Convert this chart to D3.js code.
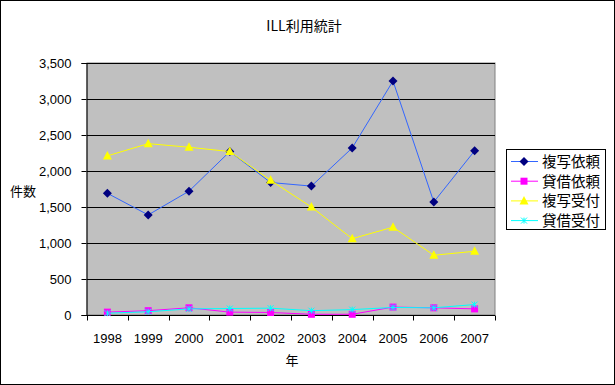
<!DOCTYPE html>
<html>
<head>
<meta charset="utf-8">
<script src="https://cdn.jsdelivr.net/npm/d3@7"></script>
<style>
body { margin: 0; background: #fff; }
text { font-family: "Noto Sans CJK JP", "DejaVu Sans", sans-serif; fill: #000; }
</style>
</head>
<body>
<div id="chart"></div>
<script>
// data
var years = ["1998", "1999", "2000", "2001", "2002", "2003", "2004", "2005", "2006", "2007"];
var seriesNames = ["複写依頼", "貸借依頼", "複写受付", "貸借受付"];
var fukushaIrai = [1690, 1390, 1720, 2270, 1840, 1790, 2320, 3250, 1570, 2280];
var taishakuIrai = [40, 60, 100, 40, 35, 10, 10, 110, 100, 85];
var fukushaUketsuke = [2210, 2380, 2330, 2270, 1870, 1500, 1060, 1220, 830, 885];
var taishakuUketsuke = [25, 45, 85, 90, 95, 60, 75, 105, 100, 145];
var yTicks = [0, 500, 1000, 1500, 2000, 2500, 3000, 3500];

var W = 615, H = 385;
var margin = {top: 63, right: 120, bottom: 70, left: 87},
    width = 495 - margin.left,
    height = 315 - margin.top;

var svg = d3.select("#chart").append("svg")
    .attr("width", W)
    .attr("height", H);

// outer border
svg.append("rect")
    .attr("x", 0.5).attr("y", 0.5)
    .attr("width", W - 1).attr("height", H - 1)
    .attr("fill", "#fff").attr("stroke", "#000");

svg.append("text")
    .attr("x", 304).attr("y", 31)
    .attr("text-anchor", "middle")
    .style("font-size", "14px")
    .text("ILL利用統計");

var g = svg.append("g")
    .attr("transform", "translate(" + margin.left + "," + margin.top + ")");

var x = d3.scaleBand().domain(years).range([0, width]);
var y = d3.scaleLinear().domain([0, 3500]).range([height, 0]);
var cx = function (i) { return x(years[i]) + x.bandwidth() / 2; };

// plot area
g.append("rect")
    .attr("width", width).attr("height", height)
    .attr("fill", "#c0c0c0").attr("stroke", "#808080");

// gridlines
g.append("g")
    .selectAll("line")
    .data(yTicks.slice(1))
    .enter().append("line")
    .attr("x1", 0).attr("x2", width)
    .attr("y1", function (d) { return Math.round(y(d)) + 0.5; })
    .attr("y2", function (d) { return Math.round(y(d)) + 0.5; })
    .attr("stroke", "#000");

// y axis
var yAxis = g.append("g")
    .attr("transform", "translate(-0.5,0)")
    .call(d3.axisLeft(y).tickValues(yTicks).tickSize(5).tickPadding(10)
        .tickFormat(d3.format(",")));
yAxis.select(".domain").attr("stroke", "#000");
yAxis.selectAll("text").style("font-size", "13px").style("font-family", "\"Liberation Sans\", sans-serif");

// x axis with ticks between categories
var xAxis = g.append("g")
    .attr("transform", "translate(0," + (height + 0.5) + ")");
xAxis.append("line").attr("x1", 0).attr("x2", width).attr("stroke", "#000");
xAxis.selectAll(".tk")
    .data(years.concat(["end"]))
    .enter().append("line")
    .attr("x1", function (d, i) { return Math.round(i * x.step()) + 0.5; })
    .attr("x2", function (d, i) { return Math.round(i * x.step()) + 0.5; })
    .attr("y1", 0).attr("y2", 5)
    .attr("stroke", "#000");
xAxis.selectAll(".lbl")
    .data(years)
    .enter().append("text")
    .attr("x", function (d, i) { return cx(i); })
    .attr("y", 27)
    .attr("text-anchor", "middle")
    .style("font-size", "13px")
    .style("font-family", "\"Liberation Sans\", sans-serif")
    .text(function (d) { return d; });

// axis titles
svg.append("text")
    .attr("x", 23).attr("y", 196)
    .attr("text-anchor", "middle")
    .style("font-size", "13px")
    .text("件数");
svg.append("text")
    .attr("x", 292).attr("y", 365)
    .attr("text-anchor", "middle")
    .style("font-size", "13px")
    .text("年");

var series = [
    {name: seriesNames[0], values: fukushaIrai, line: "#3366ff", fill: "#000080", sym: "diamond"},
    {name: seriesNames[1], values: taishakuIrai, line: "#ff00ff", fill: "#ff00ff", sym: "square"},
    {name: seriesNames[2], values: fukushaUketsuke, line: "#ffff00", fill: "#ffff00", sym: "triangle"},
    {name: seriesNames[3], values: taishakuUketsuke, line: "#00ffff", fill: "none", sym: "x"}
];

var line = d3.line()
    .x(function (d, i) { return cx(i); })
    .y(function (d) { return y(d); });

function marker(sel, s) {
    var p = sel.append("path");
    if (s.sym === "x") {
        p.attr("d", "M-3,-3L3,3M-3,3L3,-3M0,-3L0,3")
            .attr("stroke", s.line).attr("fill", "none");
    } else if (s.sym === "diamond") {
        p.attr("d", "M0,-4.5L4.5,0L0,4.5L-4.5,0Z").attr("fill", s.fill);
    } else if (s.sym === "square") {
        p.attr("d", "M-3.5,-3.5H3.5V3.5H-3.5Z").attr("fill", s.fill);
    } else {
        p.attr("d", "M0,-5L4.5,3.5H-4.5Z").attr("fill", s.fill);
    }
}

series.forEach(function (s) {
    g.append("path")
        .datum(s.values)
        .attr("d", line)
        .attr("fill", "none")
        .attr("stroke", s.line)
        .attr("stroke-width", 1);
    s.values.forEach(function (v, i) {
        var m = g.append("g").attr("transform", "translate(" + cx(i) + "," + y(v) + ")");
        marker(m, s);
    });
});

// legend
var lg = svg.append("g").attr("transform", "translate(506,149)");
lg.append("rect")
    .attr("x", 0.5).attr("y", 0.5)
    .attr("width", 99).attr("height", 80)
    .attr("fill", "#fff").attr("stroke", "#000");
series.forEach(function (s, i) {
    var row = lg.append("g").attr("transform", "translate(0," + (12.5 + i * 19.7) + ")");
    row.append("line")
        .attr("x1", 5).attr("x2", 32)
        .attr("stroke", s.line);
    marker(row.append("g").attr("transform", "translate(18,0)"), s);
    row.append("text")
        .attr("x", 36).attr("y", 5.5)
        .style("font-size", "14.5px")
        .text(s.name);
});
</script>
</body>
</html>
